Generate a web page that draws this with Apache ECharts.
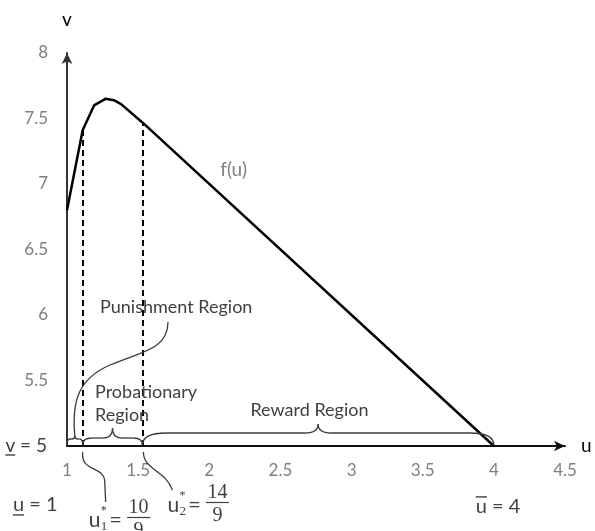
<!DOCTYPE html>
<html><head><meta charset="utf-8">
<script src="https://cdn.jsdelivr.net/npm/echarts@6/dist/echarts.min.js"></script>
<style>html,body{margin:0;padding:0;background:#fff}#c{width:595px;height:531px}</style>
</head><body><div id="c"></div>
<script>
// ---- data ----
const curveU = [1, 1.11, 1.19, 1.27, 1.33, 1.38, 1.53, 4];
const curveV = [6.80, 7.41, 7.60, 7.65, 7.64, 7.61, 7.47, 5];
const thresholdU = [1.11, 1.53];
const thresholdV = [7.41, 7.47];
const thresholdNum = ['10', '14'];
const thresholdDen = ['9', '9'];
const regionBraces = [[1, 1.11], [1.11, 1.53], [1.53, 4]];
const annotationText = ['Punishment Region', 'Probationary\nRegion', 'Reward Region', 'f(u)'];
const annotationU = [1.232, 1.197, 2.289, 2.077];
const annotationV = [6.061, 5.324, 5.275, 7.107];
const boundText = ['u = 1', 'u = 4'];
const boundU = [0.620, 3.873];
const boundV = [4.550, 4.535];
const vFloor = 5;

// ---- styles ----
const FONT = 'Lato, "Open Sans", sans-serif';
const MATH = '"Liberation Serif", "DejaVu Serif", serif';
const DARK = '#404040';
const GRAY = '#7f7f7f';
const STROKE = '#3a3a3a';

const chart = echarts.init(document.getElementById('c'), null, {renderer: 'canvas'});
const option = {
  animation: false,
  backgroundColor: '#fff',
  grid: {left: 67, right: 30, top: 53, bottom: 85},
  xAxis: {
    type: 'value', min: 1, max: 4.5, interval: 0.5,
    name: 'u', nameLocation: 'end', nameGap: 16,
    nameTextStyle: {color: '#000', fontSize: 19, fontFamily: FONT, verticalAlign: 'middle'},
    axisLine: {onZero: false, symbol: ['none', 'arrow'], symbolSize: [8, 11], lineStyle: {color: '#111', width: 2}},
    axisTick: {show: false}, splitLine: {show: false},
    axisLabel: {color: GRAY, fontSize: 17, fontFamily: FONT, margin: 16, formatter: v => String(v)}
  },
  yAxis: {
    type: 'value', min: 5, max: 8, interval: 0.5,
    name: 'v', nameLocation: 'end', nameGap: 24,
    nameTextStyle: {color: '#000', fontSize: 19, fontFamily: FONT},
    axisLine: {onZero: false, show: true, symbol: ['none', 'arrow'], symbolSize: [8, 11], lineStyle: {color: '#333', width: 2}},
    axisTick: {show: false}, splitLine: {show: false},
    axisLabel: {color: GRAY, fontSize: 17, fontFamily: FONT, margin: 19, formatter: v => (v === vFloor ? '' : String(v))}
  },
  series: [{
    type: 'line',
    data: curveU.map((u, i) => [u, curveV[i]]),
    symbol: 'none', smooth: false,
    lineStyle: {color: '#000', width: 2.5},
    markLine: {
      silent: true, symbol: ['none', 'none'], label: {show: false},
      lineStyle: {color: '#000', width: 2, type: [6, 4]},
      data: thresholdU.map((u, i) => [{coord: [u, vFloor]}, {coord: [u, thresholdV[i]]}])
    }
  }]
};
chart.setOption(option);

const P = (u, v) => chart.convertToPixel({gridIndex: 0}, [u, v]);
const mctx = document.createElement('canvas').getContext('2d');
function tw(str, size, family) { mctx.font = size + 'px ' + family; return mctx.measureText(str).width; }

const g = [];
function text(x, y, str, size, opts) {
  g.push({type: 'text', x: x, y: y, silent: true, z: 10,
    style: Object.assign({text: str, fontSize: size, fontFamily: FONT, fill: DARK,
      textAlign: 'left', textVerticalAlign: 'middle', align: 'left', verticalAlign: 'middle'}, opts || {})});
}
function line(x1, y1, x2, y2, w, c) {
  g.push({type: 'line', silent: true, z: 10, shape: {x1, y1, x2, y2}, style: {stroke: c || DARK, lineWidth: w || 1.3}});
}
// simple path builder -> line / bezierCurve graphic elements
function Pen(w) {
  let cx = 0, cy = 0;
  const st = {stroke: STROKE, lineWidth: w || 1.3, fill: null};
  return {
    M(x, y) { cx = x; cy = y; return this; },
    L(x, y) { g.push({type: 'line', silent: true, z: 10, shape: {x1: cx, y1: cy, x2: x, y2: y}, style: Object.assign({}, st)}); cx = x; cy = y; return this; },
    Q(qx, qy, x, y) { g.push({type: 'bezierCurve', silent: true, z: 10, shape: {x1: cx, y1: cy, cpx1: qx, cpy1: qy, x2: x, y2: y}, style: Object.assign({}, st)}); cx = x; cy = y; return this; },
    C(ax, ay, bx, by, x, y) { g.push({type: 'bezierCurve', silent: true, z: 10, shape: {x1: cx, y1: cy, cpx1: ax, cpy1: ay, cpx2: bx, cpy2: by, x2: x, y2: y}, style: Object.assign({}, st)}); cx = x; cy = y; return this; }
  };
}

// region / curve labels
annotationText.forEach((t, i) => {
  const [x, y] = P(annotationU[i], annotationV[i]);
  const isF = t === 'f(u)';
  text(x, y, t, isF ? 19 : 18, {fill: isF ? GRAY : DARK, lineHeight: 23});
});

// braces
const braceShape = [{h: 6, t: 3, r: 3, rm: 3}, {h: 7, t: 10, r: 9, rm: 9}, {h: 12, t: 9, r: 24, rm: 13}];
const tips = [];
regionBraces.forEach(([a, b], i) => {
  const s = braceShape[i];
  const [x1, yA] = P(a, vFloor);
  const [x2] = P(b, vFloor);
  const y0 = yA - 1, yh = y0 - s.h, xm = (x1 + x2) / 2;
  Pen(1.3).M(x1, y0).Q(x1, yh, x1 + s.r, yh).L(xm - s.rm, yh).Q(xm, yh, xm, yh - s.t)
    .M(xm, yh - s.t).Q(xm, yh, xm + s.rm, yh).L(x2 - s.r, yh).Q(x2, yh, x2, y0);
  tips.push([xm, yh - s.t]);
});

// punishment leader: from under its label down to the small brace tip
{
  const [lx, ly] = P(annotationU[0], annotationV[0]);
  const S = [lx + 68, ly + 15];
  const E = tips[0];
  Pen(1.3).M(S[0], S[1]).C(S[0], S[1] + 28, S[0] - 28, S[1] + 30, S[0] - 58, S[1] + 43)
    .C(S[0] - 88, S[1] + 56, E[0] - 3.5, E[1] - 37, E[0], E[1]);
}

// threshold labels u*_i = num/den with leaders
function starLabel(x, y, idx, num, den) {
  text(x, y, 'u', 21);
  const uw = tw('u', 21, FONT);
  text(x + uw + 0.5, y - 9, '*', 12, {fontFamily: MATH});
  text(x + uw + 0.5, y + 7, String(idx), 13, {fontFamily: MATH});
  const ex = x + uw + 9;
  text(ex, y, '=', 22);
  const fx = ex + tw('=', 22, FONT) + 5;
  const fw = Math.max(tw(num, 20, MATH), tw(den, 20, MATH)) + 3;
  const cx = fx + fw / 2;
  text(cx, y - 12, num, 20, {fontFamily: MATH, textAlign: 'center', align: 'center'});
  line(fx, y - 2.5, fx + fw, y - 2.5, 1.2);
  text(cx, y + 11, den, 20, {fontFamily: MATH, textAlign: 'center', align: 'center'});
}
{
  const A = P(thresholdU[0], vFloor);
  Pen(1.3).M(A[0], A[1] + 6).C(A[0] - 2, A[1] + 26, A[0] + 20, A[1] + 20, A[0] + 22, A[1] + 34).L(A[0] + 23, A[1] + 56);
  starLabel(A[0] + 6, A[1] + 74, 1, thresholdNum[0], thresholdDen[0]);
  const B = P(thresholdU[1], vFloor);
  Pen(1.3).M(B[0] + 1, B[1] + 6).C(B[0] + 1, B[1] + 24, B[0] + 23, B[1] + 24, B[0] + 30, B[1] + 44);
  starLabel(B[0] + 25, B[1] + 59, 2, thresholdNum[1], thresholdDen[1]);
}

// v = 5 (underlined v) as the floor tick label
{
  const [ax, ay] = P(1, vFloor);
  const s = 'v = ' + vFloor;
  const w = tw(s, 19, FONT);
  const left = ax - 20 - w;
  text(left, ay, s, 19);
  line(left, ay + 9, left + tw('v', 19, FONT), ay + 9, 1.4);
}
// u = 1 (underlined) and u = 4 (overlined)
boundText.forEach((t, i) => {
  const [x, y] = P(boundU[i], boundV[i]);
  text(x, y, t, 20);
  const uw = tw('u', 20, FONT);
  if (i === 0) line(x, y + 10, x + uw, y + 10, 1.4);
  else line(x, y - 10, x + uw, y - 10, 1.4);
});

chart.setOption({graphic: {elements: g}});
</script></body></html>
